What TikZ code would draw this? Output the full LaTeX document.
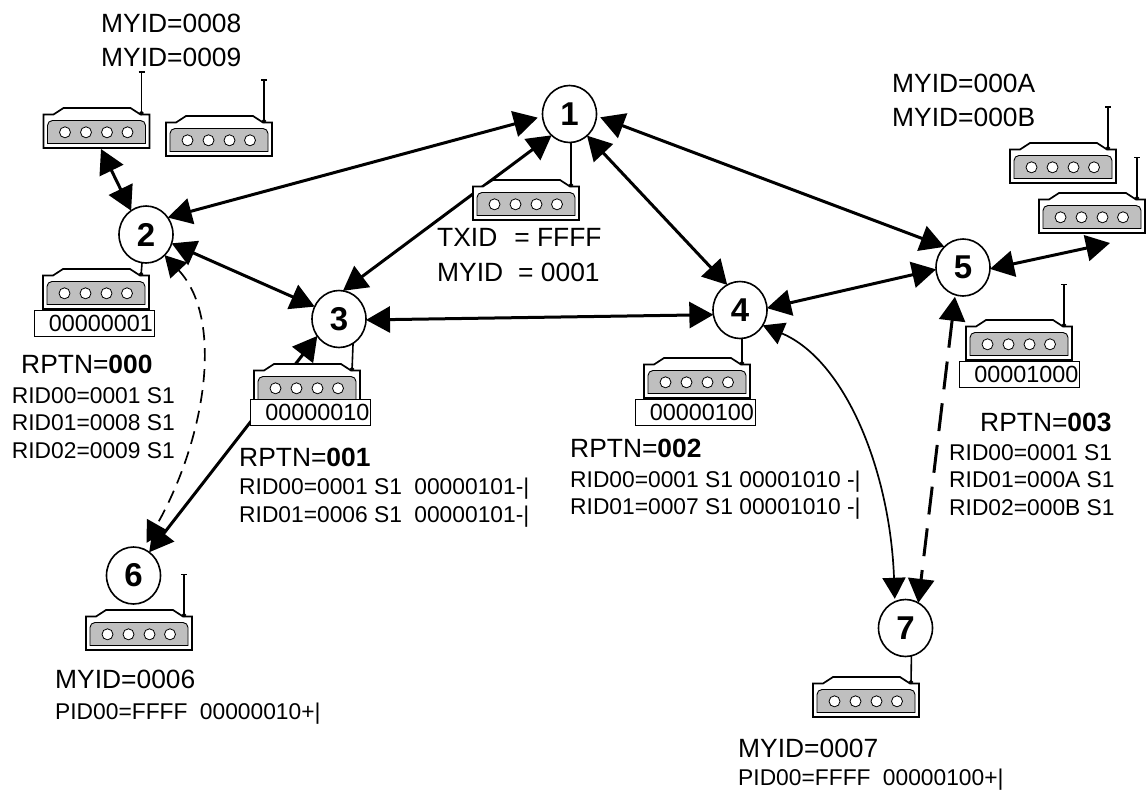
\documentclass[tikz,border=0pt]{standalone}
\usepackage{fontspec}
\setmainfont{Liberation Sans}
\usetikzlibrary{arrows.meta,shapes.geometric}
\newcommand{\bigsize}{\fontsize{26.4}{30}\selectfont}
\newcommand{\smallsize}{\fontsize{22.8}{26}\selectfont}
\tikzset{link/.style={<->,>={Triangle[length=24pt,width=26pt]},line width=3pt},
         thinlink/.style={<->,>={Triangle[length=21pt,width=23pt]},line width=1.7pt},
         farlink/.style={<->,>={Triangle[length=24pt,width=26pt]},line width=3pt,dash pattern=on 28pt off 14pt},
         nearlink/.style={<->,>={Triangle[length=21pt,width=23pt]},line width=1.7pt,dash pattern=on 13pt off 8pt},
         station/.style={ellipse,draw,fill=white,line width=1.6pt,inner sep=0pt,outer sep=0pt,
                         minimum width=54pt,minimum height=57pt,font=\bfseries\fontsize{33}{33}\selectfont},
         aerial/.style={line width=1.6pt,-{Circle[length=4pt]}},
         tag/.style={draw,fill=white,line width=0.8pt,inner sep=1pt,outer sep=0pt,minimum height=26pt,
                     text width=118pt,align=right,font=\fontsize{23.4}{26}\selectfont},
         big/.style={anchor=base west,inner sep=0pt,font=\bigsize},
         small/.style={anchor=base west,inner sep=0pt,font=\smallsize},
         pics/router/.style={code={
           \draw[fill=white,line width=1.7pt] (0,6.5) -- (10,6.5) -- (20,0) -- (87,0) -- (97,6.5) -- (106,6.5)
             -- (106,40) -- (0,40) -- cycle;
           \draw[fill=black!25,line width=0.9pt] (4,35.5) [rounded corners=5pt] -- (4,12.5) -- (102,12.5)
             [sharp corners] -- (102,35.5) -- cycle;
           \foreach \x in {21.5,42.5,63.5,84}
             \draw[fill=white,line width=0.8pt] (\x,24.3) circle (5.5pt);
           \coordinate (-ant) at (98,7);
           \coordinate (-top) at (98,-36.5);
           \coordinate (-port) at (57.5,41);
         }}
}

\begin{document}
\begin{tikzpicture}[x=1pt,y=-1pt]
  \useasboundingbox (0,0) rectangle (1147,789);
  \node[station] (N1) at (569.5,114) {1};
  \node[station] (N2) at (146,234.5) {2};
  \node[station] (N3) at (339,319) {3};
  \node[station] (N4) at (740,310) {4};
  \node[station] (N5) at (963,267.5) {5};
  \node[station] (N6) at (133.5,575.5) {6};
  \node[station] (N7) at (905.5,628) {7};
  \coordinate (E5) at (1110,243);
  % links, the routers go on top of them
  \draw[link,shorten <=5pt] (N1.185) -- (N2.38);
  \draw[link] (N1.-130) -- (N3.82);
  \draw[link] (N2.-19) -- (N3.153);
  \draw[link] (N3.-2) -- (N4.190);
  \draw[link] (N1.-51) -- (N4.117);
  \draw[link,shorten <=4pt] (N1.-4) -- (N5.132);
  \draw[link] (N4.4) -- (N5.184);
  \draw[link] (N5.-3) -- (E5);
  \draw[link] (N3.218) -- (N6.56);
  \draw[farlink,shorten <=2pt] (N5.-106) -- (N7.63);
  \draw[nearlink,shorten >=7pt] (N2.-48) .. controls (225,320) and (205,440) .. (N6.70);
  \draw[thinlink,shorten >=3pt] (N4.-34) .. controls (845,360) and (890,470) .. (N7.112);

  \pic (D1) at (473,180) {router};
  \pic (D2) at (43,269) {router};
  \pic (D3) at (254,364) {router};
  \pic (D4) at (644,358) {router};
  \pic (D5) at (966,320) {router};
  \pic (D6) at (86,610) {router};
  \pic (D7) at (813,677) {router};
  \pic (D8) at (43.5,108) {router};
  \pic (D9) at (166,116) {router};
  \pic (DA) at (1010,143) {router};
  \pic (DB) at (1039,193) {router};

  \draw[link] (D8-port) -- (N2.122);
  \draw[aerial] (N1.-87) -- (D1-ant);
  \draw[aerial] (N2.-98) -- (D2-ant);
  \draw[aerial] (N3.-60) -- (D3-ant);
  \draw[aerial] (N4.-86) -- (D4-ant);
  \draw[aerial] (N7.-78) -- (D7-ant);
  \foreach \d in {D5,D6,D8,D9,DA,DB}
    \draw[aerial,{Bar[width=6pt,line width=1.4pt]}-{Circle[length=4pt]}] (\d-top) -- (\d-ant);

  \node[tag] (T2) at (94,323) {00000001};
  \node[tag] (T3) at (310.5,412) {00000010};
  \node[tag] (T4) at (695,412) {00000100};
  \node[tag] (T5) at (1019.5,374.5) {00001000};

  \node[big] (L8) at (101,32.5) {MYID=0008};
  \node[big] (L9) at (101,66.5) {MYID=0009};
  \node[big] (LA) at (892,92.7) {MYID=000A};
  \node[big] (LB) at (892,126) {MYID=000B};
  \node[big] (TX) at (437,246.7) {TXID\hspace{17pt}= FFFF};
  \node[big] (M1) at (437,281) {MYID\hspace{15pt}= 0001};

  \node[big] (R0) at (21,373) {RPTN=\textbf{000}};
  \node[small] (R00) at (11.7,403) {RID00=0001 S1};
  \node[small] (R01) at (11.7,430.7) {RID01=0008 S1};
  \node[small] (R02) at (11.7,458) {RID02=0009 S1};

  \node[big] (R1) at (239,466.7) {RPTN=\textbf{001}};
  \node[small] (R10) at (239,494) {RID00=0001 S1\hspace{6pt} 00000101-|};
  \node[small] (R11) at (239,522) {RID01=0006 S1\hspace{6pt} 00000101-|};

  \node[big] (R2) at (570,457.7) {RPTN=\textbf{002}};
  \node[small] (R20) at (570,487) {RID00=0001 S1 00001010 -|};
  \node[small] (R21) at (570,514) {RID01=0007 S1 00001010 -|};

  \node[big] (R3) at (980,431.7) {RPTN=\textbf{003}};
  \node[small] (R30) at (949,460.7) {RID00=0001 S1};
  \node[small] (R31) at (949,487.7) {RID01=000A S1};
  \node[small] (R32) at (949,515) {RID02=000B S1};

  \node[big] (M6) at (55,688) {MYID=0006};
  \node[small] (P6) at (55,719) {PID00=FFFF\hspace{6pt} 00000010+|};
  \node[big] (M7) at (738,757) {MYID=0007};
  \node[small] (P7) at (738,785) {PID00=FFFF\hspace{6pt} 00000100+|};
\end{tikzpicture}
\end{document}
